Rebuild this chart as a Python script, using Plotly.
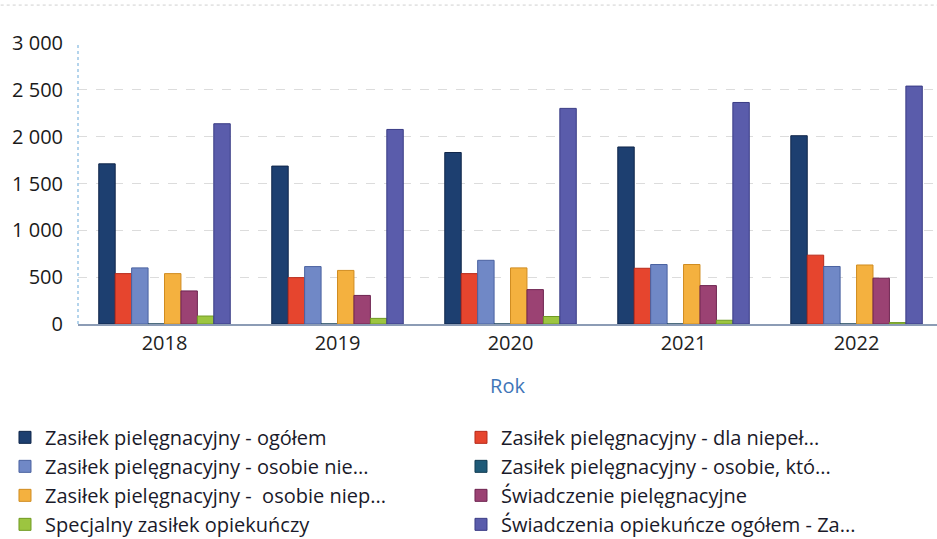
import plotly.graph_objects as go

years = ["2018", "2019", "2020", "2021", "2022"]

series_names = [
    "Zasiłek pielęgnacyjny - ogółem",
    "Zasiłek pielęgnacyjny - dla niepeł...",
    "Zasiłek pielęgnacyjny - osobie nie...",
    "Zasiłek pielęgnacyjny - osobie, któ...",
    "Zasiłek pielęgnacyjny -  osobie niep...",
    "Świadczenie pielęgnacyjne",
    "Specjalny zasiłek opiekuńczy",
    "Świadczenia opiekuńcze ogółem - Za...",
]

zp_ogolem = [1710, 1686, 1831, 1890, 2010]
zp_dla_niepel = [538, 495, 538, 595, 735]
zp_osobie_nie = [599, 613, 680, 635, 614]
zp_osobie_kto = [0, 0, 0, 0, 0]
zp_osobie_niep = [538, 572, 599, 635, 630]
swiadczenie_piel = [353, 305, 367, 410, 489]
specjalny_zas = [85, 60, 80, 40, 15]
swiadczenia_ogolem = [2138, 2077, 2302, 2365, 2540]

values = [zp_ogolem, zp_dla_niepel, zp_osobie_nie, zp_osobie_kto,
          zp_osobie_niep, swiadczenie_piel, specjalny_zas, swiadczenia_ogolem]

colors = ["#1d3f70", "#e6452e", "#7088c6", "#1f5a78",
          "#f4b13f", "#9b4273", "#9cc540", "#5a5cab"]
edges = ["#10264a", "#b82a1a", "#4a62a0", "#123c52",
         "#d08c20", "#6e2450", "#6f9a22", "#3a3c85"]

fig = go.Figure()
for name, vals, col, edge in zip(series_names, values, colors, edges):
    fig.add_trace(go.Bar(
        x=years, y=vals, name=name,
        marker=dict(color=col, line=dict(color=edge, width=1)),
    ))

fig.update_layout(
    width=937, height=539,
    margin=dict(l=78, r=0, t=43, b=215, autoexpand=False),
    paper_bgcolor="white", plot_bgcolor="white",
    barmode="group", bargap=0.24, bargroupgap=0,
    font=dict(family="Open Sans, Noto Sans, sans-serif", color="#222222"),
    separators=", ",
    showlegend=True,
    legend=dict(
        orientation="h",
        x=-0.085, xanchor="left", y=-0.334, yanchor="top",
        entrywidth=411, entrywidthmode="pixels",
        font=dict(size=20, color="#1a1a2a"),
        itemwidth=30, traceorder="normal",
    ),
    xaxis=dict(
        range=[-0.5, 4.465], showgrid=False,
        showline=True, linecolor="#8c9cb5", linewidth=1.5,
        ticks="", tickfont=dict(size=20, color="#222222"),
        title=dict(text="Rok", font=dict(size=20, color="#3f76b8"), standoff=24),
    ),
    yaxis=dict(
        range=[0, 3000], tickvals=[0, 500, 1000, 1500, 2000, 2500, 3000],
        tickformat=",d", showgrid=True, gridcolor="#dcdcdc", griddash="dash",
        gridwidth=1, zeroline=False, showline=False, ticks="",
        ticklabelstandoff=14,
        tickfont=dict(size=20, color="#1a1a1a"),
    ),
    shapes=[
        dict(type="line", xref="paper", yref="paper", x0=0, x1=0, y0=0, y1=1,
             line=dict(color="#9cc6e6", width=1.5, dash="dot")),
        dict(type="line", xref="paper", yref="paper", x0=-0.09, x1=1.0,
             y0=1.135, y1=1.135,
             line=dict(color="#d0d0d0", width=1, dash="dot")),
    ],
)

fig.write_html("out.html")
